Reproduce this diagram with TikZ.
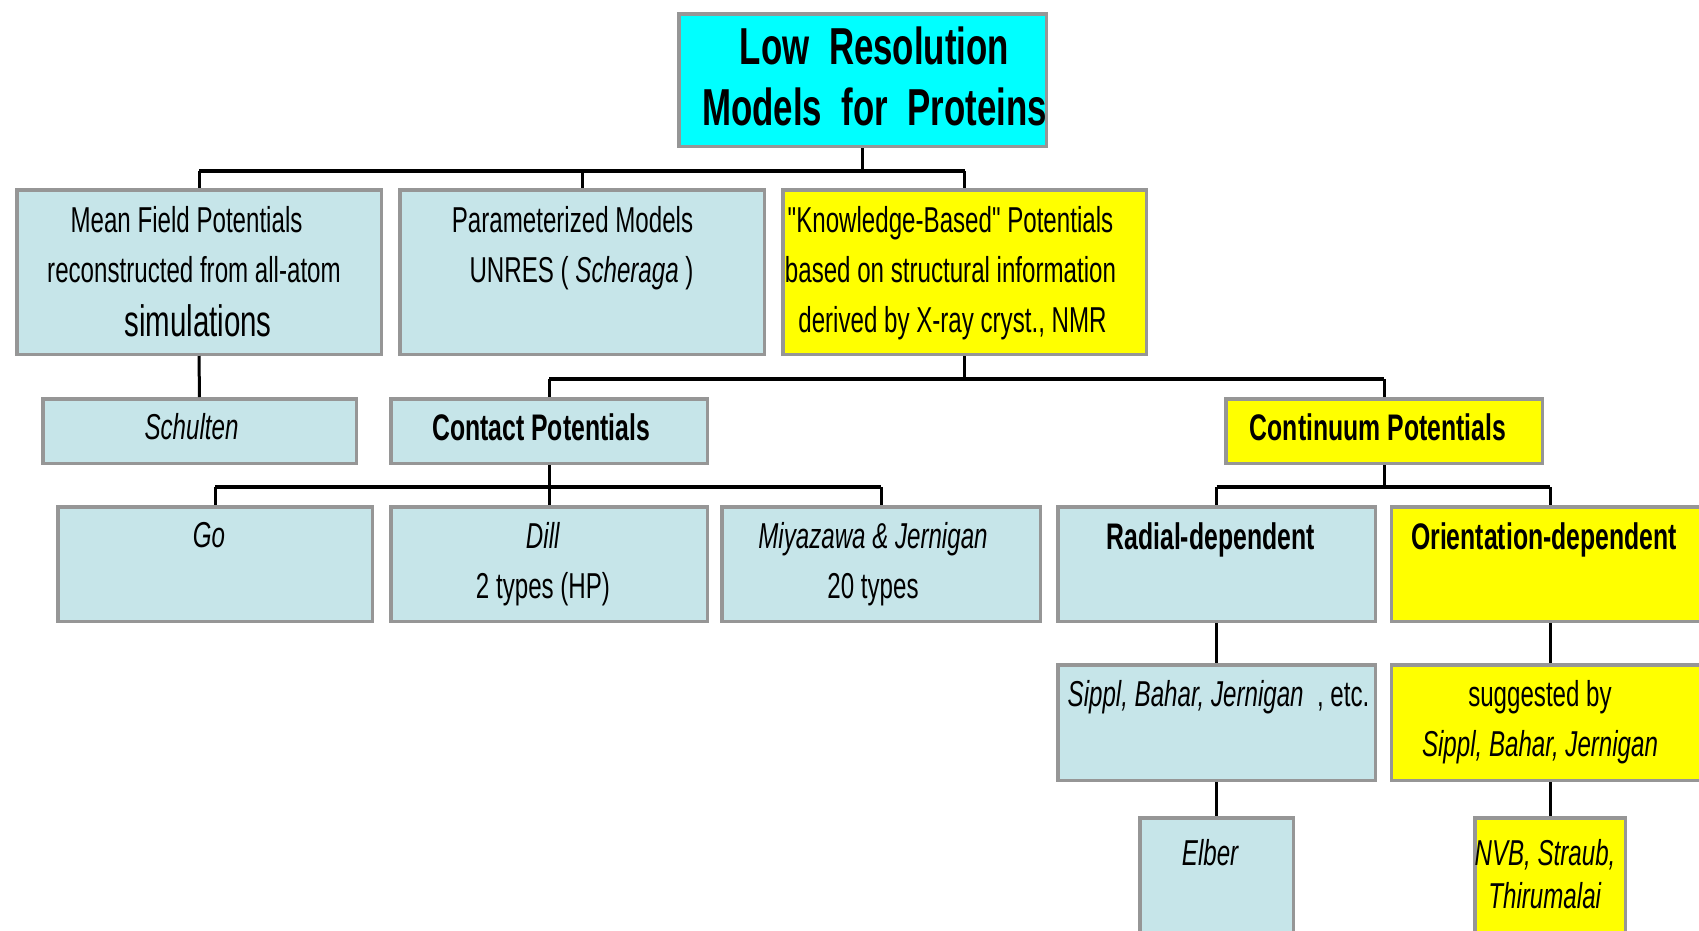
\documentclass[tikz,border=0pt]{standalone}
\usepackage{fontspec}
\setmainfont{Liberation Sans}[FakeStretch=0.67,Ligatures=TeXOff]
\usepackage{xcolor}
\definecolor{bleuciel}{RGB}{198,229,233}
\definecolor{Jaune}{RGB}{255,255,0}
\definecolor{Cyan}{RGB}{0,255,255}
\definecolor{Gray}{RGB}{150,150,150}
\usetikzlibrary{positioning}

\begin{document}
\begin{tikzpicture}[x=1pt,y=-1pt,
  every node/.style={inner sep=0pt},
  boite/.style={draw=Gray,line width=3.5pt},
  bleue/.style={boite,fill=bleuciel},
  jaune/.style={boite,fill=Jaune},
  texte/.style={align=center,font=\fontsize{36}{50}\selectfont},
  gras/.style={texte,font=\bfseries\fontsize{37}{50}\selectfont},
  barre/.style={line width=4.5pt},
  tige/.style={line width=3pt}]
    \path[use as bounding box,clip] (0,0) rectangle (1699,930);
    % titre
    \node[boite,fill=Cyan,minimum width=367.5,minimum height=132.5] (titre) at (862.5,80) {};
    % premier niveau
    \node[bleue,minimum width=364.5,minimum height=164.5] (champ) at (199,272) {};
    \node[bleue,minimum width=364.5,minimum height=164.5] (param) at (582,272) {};
    \node[jaune,minimum width=363.5,minimum height=164.5] (savoir) at (964.5,272) {};
    % deuxieme niveau
    \node[bleue,minimum width=313.5,minimum height=64.5] (schulten) at (199.5,431) {};
    \node[bleue,minimum width=316.5,minimum height=64.5] (contact) at (549,431) {};
    \node[jaune,minimum width=316.5,minimum height=64.5] (continuum) at (1384,431) {};
    % troisieme niveau
    \node[bleue,minimum width=314.5,minimum height=114.5] (go) at (215,564) {};
    \node[bleue,minimum width=316.5,minimum height=114.5] (dill) at (549,564) {};
    \node[bleue,minimum width=318.5,minimum height=114.5] (miyazawa) at (881,564) {};
    \node[bleue,minimum width=317.5,minimum height=114.5] (radial) at (1216.5,564) {};
    \node[jaune,minimum width=317.5,minimum height=114.5] (orientation) at (1550,564) {};
    % quatrieme et cinquieme niveaux
    \node[bleue,minimum width=317.5,minimum height=115.5] (sippl) at (1216.5,722.5) {};
    \node[jaune,minimum width=317.5,minimum height=115.5] (suggere) at (1550,722.5) {};
    \node[bleue,minimum width=153.5,minimum height=140] (elber) at (1216.5,888) {};
    \node[jaune,minimum width=150.5,minimum height=140] (nvb) at (1550,888) {};

    % liaisons
    \coordinate (j0) at (862.5,171);
    \draw[tige] (titre.south) -- (j0);
    \draw[barre] (champ.north |- j0) -- (savoir.north |- j0);
    \draw[tige] (champ.north |- j0) -- (champ.north);
    \draw[tige] (param.north |- j0) -- (param.north);
    \draw[tige] (savoir.north |- j0) -- (savoir.north);
    \draw[tige] (champ.south) -- (schulten.north);
    \coordinate (j1) at (964.5,379);
    \draw[tige] (savoir.south) -- (j1);
    \draw[barre] (contact.north |- j1) -- (continuum.north |- j1);
    \draw[tige] (contact.north |- j1) -- (contact.north);
    \draw[tige] (continuum.north |- j1) -- (continuum.north);
    \coordinate (j2) at (549,487);
    \draw[tige] (contact.south) -- (dill.north);
    \draw[barre] (go.north |- j2) -- (miyazawa.north |- j2);
    \draw[tige] (go.north |- j2) -- (go.north);
    \draw[tige] (miyazawa.north |- j2) -- (miyazawa.north);
    \coordinate (j3) at (1384,487);
    \draw[tige] (continuum.south) -- (j3);
    \draw[barre] (radial.north |- j3) -- (orientation.north |- j3);
    \draw[tige] (radial.north |- j3) -- (radial.north);
    \draw[tige] (orientation.north |- j3) -- (orientation.north);
    \draw[tige] (radial.south) -- (sippl.north);
    \draw[tige] (sippl.south) -- (elber.north);
    \draw[tige] (orientation.south) -- (suggere.north);
    \draw[tige] (suggere.south) -- (nvb.north);

    % textes
    \node[texte,font=\bfseries\fontsize{52}{61}\selectfont,below=15pt of titre.north,xshift=12pt] (titre-t) {Low~~Resolution\\Models~~for~~Proteins};
    \node[texte,below=18pt of champ.north,xshift=-5pt] (champ-t) {Mean Field Potentials\hspace*{15pt}\\reconstructed from all-atom\\[4pt]\hspace*{8pt}{\fontsize{44}{49}\selectfont simulations}};
    \node[texte,below=18pt of param.north,xshift=-5pt] (param-t) {Parameterized Models\hspace*{9pt}\\\hspace*{9pt}UNRES ( \textit{Scheraga} )};
    \node[texte,below=18pt of savoir.north,xshift=-14pt] (savoir-t) {"Knowledge-Based" Potentials\\based on structural information\\\hspace*{4pt}derived by X-ray cryst., NMR};
    \node[texte,below=16pt of schulten.north,xshift=-8pt] (schulten-t) {\textit{Schulten}};
    \node[gras,below=16pt of contact.north,xshift=-8pt] (contact-t) {Contact Potentials};
    \node[gras,below=16pt of continuum.north,xshift=-6pt] (continuum-t) {Continuum Potentials};
    \node[texte,below=17pt of go.north,xshift=-6pt] (go-t) {\textit{Go}};
    \node[texte,below=17pt of dill.north,xshift=-6pt] (dill-t) {\textit{Dill}\\2 types (HP)};
    \node[texte,below=17pt of miyazawa.north,xshift=-8pt] (miyazawa-t) {\textit{Miyazawa \& Jernigan}\\20 types};
    \node[gras,below=17pt of radial.north,xshift=-6pt] (radial-t) {Radial-dependent};
    \node[gras,below=17pt of orientation.north,xshift=-6pt] (orientation-t) {Orientation-dependent};
    \node[texte,below=17pt of sippl.north,xshift=2pt] (sippl-t) {\textit{Sippl, Bahar, Jernigan}\ \ , etc.};
    \node[texte,below=17pt of suggere.north,xshift=-10pt] (suggere-t) {suggested by\\\textit{Sippl, Bahar, Jernigan}};
    \node[texte,below=23pt of elber.north,xshift=-6pt] (elber-t) {\textit{Elber}};
    \node[texte,font=\fontsize{36}{43}\selectfont,below=23pt of nvb.north,xshift=-5pt] (nvb-t) {\textit{NVB, Straub,}\\\textit{Thirumalai}};
\end{tikzpicture}
\end{document}
